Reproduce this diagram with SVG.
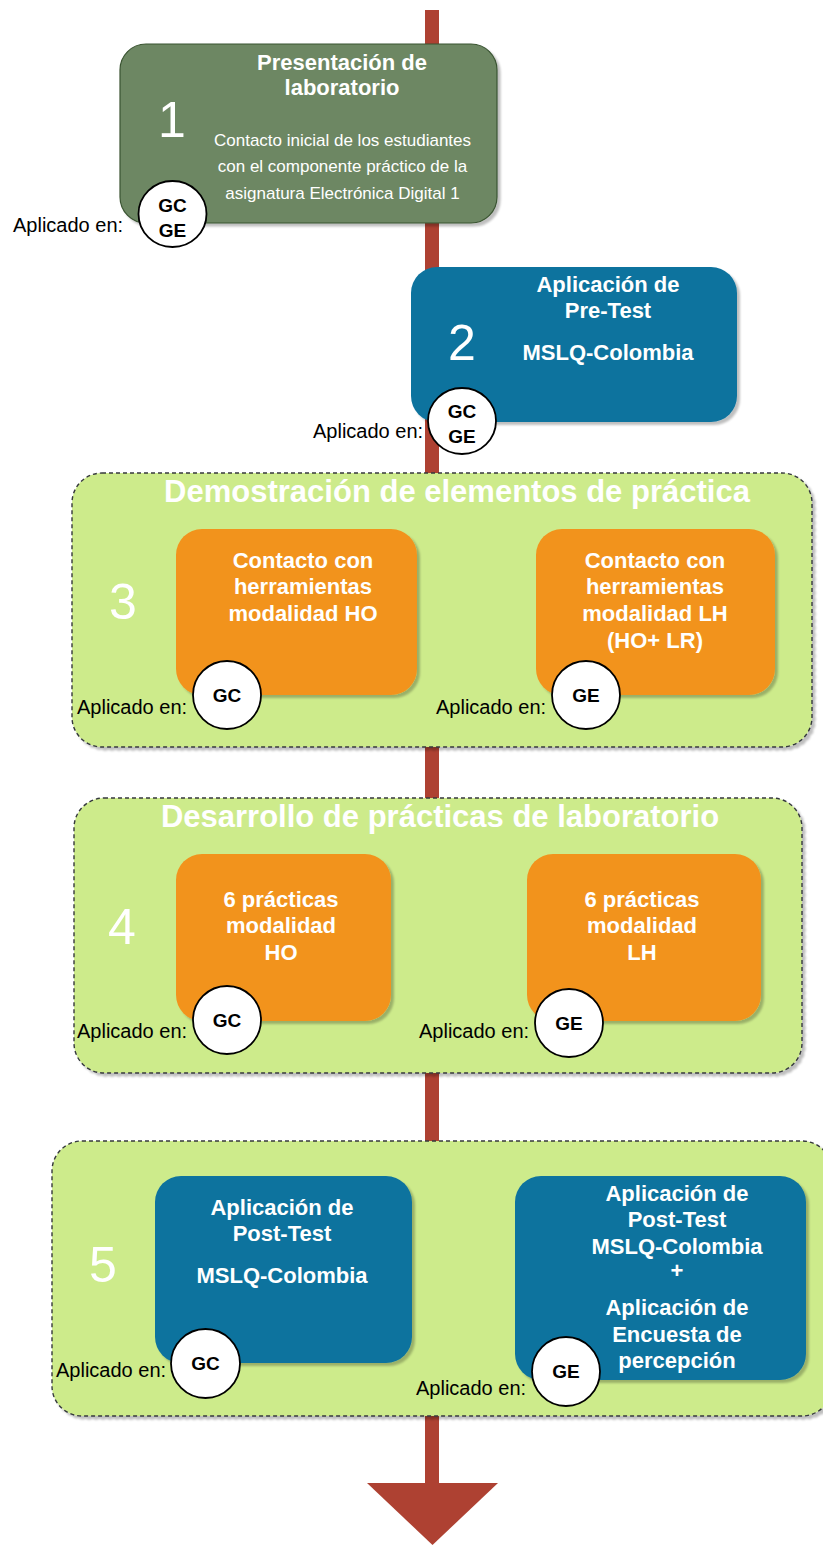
<svg xmlns="http://www.w3.org/2000/svg" width="823" height="1545" viewBox="0 0 823 1545">
<defs>
<filter id="sh" x="-10%" y="-10%" width="130%" height="130%">
<feGaussianBlur in="SourceAlpha" stdDeviation="1.2"/>
<feOffset dx="3" dy="3" result="o"/>
<feFlood flood-color="#000" flood-opacity="0.25"/>
<feComposite in2="o" operator="in"/>
<feMerge><feMergeNode/><feMergeNode in="SourceGraphic"/></feMerge>
</filter>
</defs>
<style>
.bw{font-family:"Liberation Sans",Arial,sans-serif;font-weight:bold;fill:#fff;font-size:22px;text-anchor:middle;}
.num{font-family:"Liberation Sans",Arial,sans-serif;fill:#fff;font-size:50px;text-anchor:middle;}
.body{font-family:"Liberation Sans",Arial,sans-serif;fill:#fff;font-size:17px;text-anchor:middle;}
.ap{font-family:"Liberation Sans",Arial,sans-serif;fill:#000;font-size:20px;}
.cl{font-family:"Liberation Sans",Arial,sans-serif;font-weight:bold;fill:#000;font-size:19px;text-anchor:middle;}
.circ{fill:#fff;stroke:#000;stroke-width:1.8;}
.cont{fill:#cdeb8b;stroke:#36393d;stroke-width:1.4;stroke-dasharray:4 3;filter:url(#sh);}
.sec{font-family:"Liberation Sans",Arial,sans-serif;font-weight:bold;fill:#fff;font-size:31px;text-anchor:middle;}
.green{fill:#6d8764;stroke:#3a5431;stroke-width:1.2;filter:url(#sh);}
.blue{fill:#10739e;filter:url(#sh);}
.orange{fill:#f2931e;filter:url(#sh);}
</style>
<g id="connectors">
<rect x="425" y="10" width="14" height="1474" fill="#ae4132"/>
<polygon points="367,1483 498,1483 432.5,1545" fill="#ae4132"/>
</g>
<g id="step1">
<rect class="green" x="120" y="44" width="377" height="179" rx="26"/>
<text class="num" x="172" y="137">1</text>
<text class="bw" x="342" y="70">Presentación de</text>
<text class="bw" x="342" y="95">laboratorio</text>
<text class="body" x="342.5" y="146">Contacto inicial de los estudiantes</text>
<text class="body" x="342.5" y="172">con el componente práctico de la</text>
<text class="body" x="342.5" y="199">asignatura Electrónica Digital 1</text>
<text class="ap" x="13" y="232">Aplicado en:</text>
<ellipse class="circ" cx="172.5" cy="214" rx="34" ry="33"/>
<text class="cl" x="172.5" y="212">GC</text>
<text class="cl" x="172.5" y="237">GE</text>
</g>
<g id="step2">
<rect class="blue" x="411" y="267" width="326" height="155" rx="26"/>
<text class="num" x="462" y="360">2</text>
<text class="bw" x="608" y="292">Aplicación de</text>
<text class="bw" x="608" y="318">Pre-Test</text>
<text class="bw" x="608" y="360">MSLQ-Colombia</text>
<text class="ap" x="313" y="438">Aplicado en:</text>
<ellipse class="circ" cx="462" cy="421" rx="34" ry="33"/>
<text class="cl" x="462" y="418">GC</text>
<text class="cl" x="462" y="443">GE</text>
</g>
<g id="step3">
<rect class="cont" x="72" y="473" width="740" height="274" rx="30"/>
<text class="sec" x="457" y="502">Demostración de elementos de práctica</text>
<text class="num" x="123" y="619">3</text>
<g id="step3a">
<rect class="orange" x="176" y="529" width="241" height="166" rx="26"/>
<text class="bw" x="303" y="568">Contacto con</text>
<text class="bw" x="303" y="594">herramientas</text>
<text class="bw" x="303" y="621">modalidad HO</text>
<text class="ap" x="77" y="714">Aplicado en:</text>
<ellipse class="circ" cx="227" cy="695" rx="34" ry="34"/>
<text class="cl" x="227" y="702">GC</text>
</g>
<g id="step3b">
<rect class="orange" x="536" y="529" width="239" height="166" rx="26"/>
<text class="bw" x="655" y="568">Contacto con</text>
<text class="bw" x="655" y="594">herramientas</text>
<text class="bw" x="655" y="621">modalidad LH</text>
<text class="bw" x="655" y="648">(HO+ LR)</text>
<text class="ap" x="436" y="714">Aplicado en:</text>
<ellipse class="circ" cx="586" cy="695" rx="34" ry="34"/>
<text class="cl" x="586" y="702">GE</text>
</g>
</g>
<g id="step4">
<rect class="cont" x="74" y="798" width="728" height="275" rx="30"/>
<text class="sec" x="440" y="827">Desarrollo de prácticas de laboratorio</text>
<text class="num" x="122" y="944">4</text>
<g id="step4a">
<rect class="orange" x="176" y="854" width="215" height="167" rx="26"/>
<text class="bw" x="281" y="907">6 prácticas</text>
<text class="bw" x="281" y="933">modalidad</text>
<text class="bw" x="281" y="960">HO</text>
<text class="ap" x="77" y="1038">Aplicado en:</text>
<ellipse class="circ" cx="227" cy="1020" rx="34" ry="34"/>
<text class="cl" x="227" y="1027">GC</text>
</g>
<g id="step4b">
<rect class="orange" x="527" y="854" width="234" height="167" rx="26"/>
<text class="bw" x="642" y="907">6 prácticas</text>
<text class="bw" x="642" y="933">modalidad</text>
<text class="bw" x="642" y="960">LH</text>
<text class="ap" x="419" y="1038">Aplicado en:</text>
<ellipse class="circ" cx="569" cy="1023" rx="34" ry="34"/>
<text class="cl" x="569" y="1030">GE</text>
</g>
</g>
<g id="step5">
<rect class="cont" x="52" y="1141" width="780" height="275" rx="30"/>
<text class="num" x="103" y="1282">5</text>
<g id="step5a">
<rect class="blue" x="155" y="1176" width="257" height="187" rx="26"/>
<text class="bw" x="282" y="1215">Aplicación de</text>
<text class="bw" x="282" y="1241">Post-Test</text>
<text class="bw" x="282" y="1283">MSLQ-Colombia</text>
<text class="ap" x="56" y="1377">Aplicado en:</text>
<ellipse class="circ" cx="205.5" cy="1363.5" rx="34.5" ry="34.5"/>
<text class="cl" x="205.5" y="1370">GC</text>
</g>
<g id="step5b">
<rect class="blue" x="515" y="1176" width="291" height="204" rx="26"/>
<text class="bw" x="677" y="1201">Aplicación de</text>
<text class="bw" x="677" y="1227">Post-Test</text>
<text class="bw" x="677" y="1254">MSLQ-Colombia</text>
<text class="bw" x="677" y="1278">+</text>
<text class="bw" x="677" y="1315">Aplicación de</text>
<text class="bw" x="677" y="1342">Encuesta de</text>
<text class="bw" x="677" y="1368">percepción</text>
<text class="ap" x="416" y="1395">Aplicado en:</text>
<ellipse class="circ" cx="566" cy="1371.5" rx="34" ry="34.5"/>
<text class="cl" x="566" y="1378">GE</text>
</g>
</g>
</svg>
